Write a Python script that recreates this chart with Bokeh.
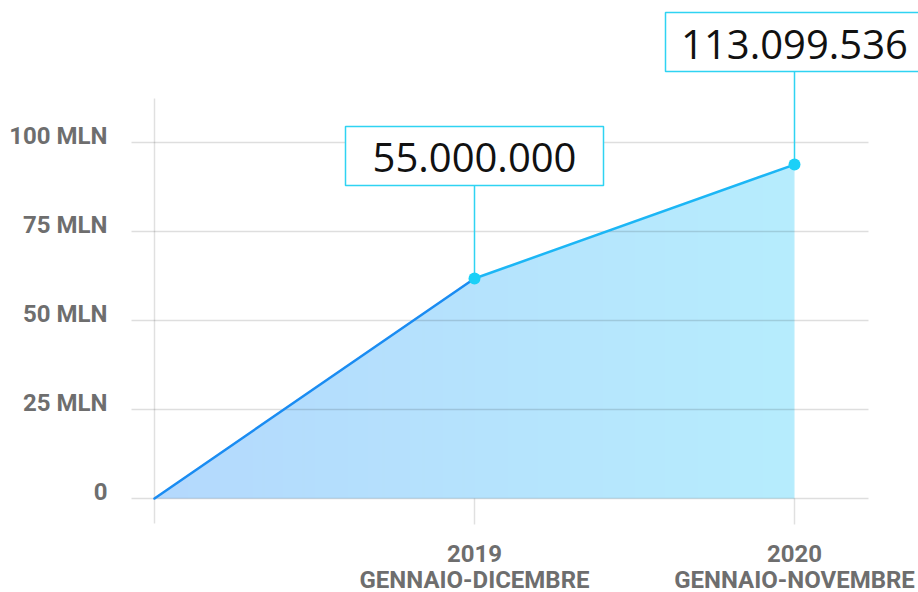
import numpy as np
from bokeh.plotting import figure
from bokeh.models import Range1d
from bokeh.core.properties import value
from bokeh.embed import file_html
from bokeh.resources import INLINE

# ---------------- data ----------------
periods = ["2019", "2020"]
period_sub = ["GENNAIO-DICEMBRE", "GENNAIO-NOVEMBRE"]
x_pos = [0, 1, 2]
values_mln = [0.0, 61.8, 93.8]
ann_labels = ["55.000.000", "113.099.536"]
y_ticks = [0, 25, 50, 75, 100]
y_tick_labels = ["0", "25 MLN", "50 MLN", "75 MLN", "100 MLN"]

# ---------------- layout constants ----------------
W, H = 918, 592
PX_X = 320.0            # px per category step
PX_Y = 89.0 / 25.0      # px per MLN
X0_PX, Y0_PX = 154, 498 # pixel position of (x=0, y=0)
x_start = -X0_PX / PX_X
x_end = (W - X0_PX) / PX_X
y_end = Y0_PX / PX_Y
y_start = -(H - Y0_PX) / PX_Y

GX0 = (131 - X0_PX) / PX_X
GX1 = (868 - X0_PX) / PX_X

LABEL_GRAY = "#6e6e6e"
CYAN = "#2fd3f2"

p = figure(width=W, height=H, x_range=Range1d(x_start, x_end), y_range=Range1d(y_start, y_end),
           output_backend="svg", toolbar_location=None, min_border=0,
           x_axis_location=None, y_axis_location=None,
           background_fill_color="white", border_fill_color="white", outline_line_color=None)
p.grid.visible = False

# ---------------- gradient area ----------------
n = 256
t = np.linspace(0, 1, n)
c0 = np.array([180, 217, 253], dtype=float)
c1 = np.array([183, 237, 253], dtype=float)
rgb = (c0[None, :] * (1 - t[:, None]) + c1[None, :] * t[:, None]).astype(np.uint8)
img = np.empty((1, n), dtype=np.uint32)
view = img.view(dtype=np.uint8).reshape((1, n, 4))
view[0, :, 0:3] = rgb
view[0, :, 3] = 255
top = max(values_mln)
p.image_rgba(image=[img], x=x_pos[0], y=0, dw=x_pos[-1] - x_pos[0], dh=top)
# mask above the data line
p.patch(x_pos + [x_pos[-1], x_pos[0]], values_mln + [top + 1, top + 1],
        fill_color="white", line_color="white", line_width=1.5)

# ---------------- grid / axis lines ----------------
p.segment(x0=[GX0] * len(y_ticks), y0=y_ticks, x1=[GX1] * len(y_ticks), y1=y_ticks,
          line_color="black", line_alpha=0.13, line_width=1.3)
p.segment(x0=[x_pos[0]], y0=[-25 / PX_Y], x1=[x_pos[0]], y1=[400 / PX_Y],
          line_color="black", line_alpha=0.12, line_width=1.5)
p.segment(x0=x_pos[1:], y0=[0] * 2, x1=x_pos[1:], y1=[-26 / PX_Y] * 2,
          line_color="black", line_alpha=0.12, line_width=1.5)

# ---------------- data line ----------------
p.segment(x0=x_pos[:-1], y0=values_mln[:-1], x1=x_pos[1:], y1=values_mln[1:],
          line_color=["#1a8cf2", "#1cb6f5"], line_width=2.5, line_cap="round")

# ---------------- annotations ----------------
STEM = 93 / PX_Y
BOX_W, BOX_H = 258, 59
px = x_pos[1:]
pv = values_mln[1:]
p.segment(x0=px, y0=pv, x1=px, y1=[v + STEM for v in pv], line_color=CYAN, line_width=1.5)
box_y = [v + STEM + (BOX_H / 2) / PX_Y for v in pv]
p.rect(x=px, y=box_y, width=BOX_W, height=BOX_H, width_units="screen", height_units="screen",
       fill_color="white", line_color=CYAN, line_width=1.5)
p.text(x=px, y=box_y, text=ann_labels, text_font=value("Open Sans"), text_font_size="40px",
       text_align="center", text_baseline="middle", text_color="#111111", y_offset=2)
p.scatter(x=px, y=pv, size=12, fill_color="#1bd0f7", line_color=None)

# ---------------- axis labels ----------------
p.text(x=[GX0] * len(y_ticks), y=y_ticks, text=y_tick_labels, x_offset=-24, y_offset=-7,
       text_align="right", text_baseline="middle", text_font=value("Roboto"),
       text_font_style="bold", text_font_size="24px", text_color=LABEL_GRAY)
p.text(x=px, y=[0] * 2, text=periods, y_offset=55, text_align="center", text_baseline="middle",
       text_font=value("Roboto"), text_font_style="bold", text_font_size="24px", text_color=LABEL_GRAY)
p.text(x=px, y=[0] * 2, text=period_sub, y_offset=81, text_align="center", text_baseline="middle",
       text_font=value("Roboto"), text_font_style="bold", text_font_size="24px", text_color=LABEL_GRAY)

open("out.html", "w").write(file_html(p, INLINE))
